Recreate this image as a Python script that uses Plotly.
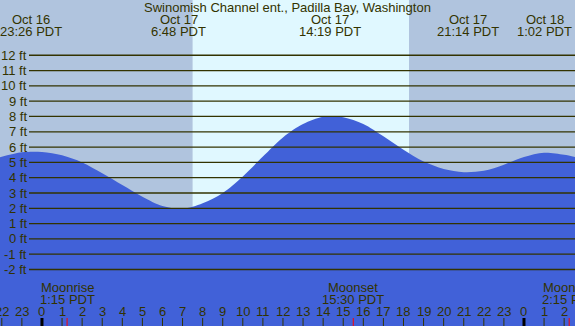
import plotly.graph_objects as go

# ---------------- data ----------------
title_text = "Swinomish Channel ent., Padilla Bay, Washington"

# tide height (ft); hours relative to Oct 17 00:00 PDT
tide_hours = [-2.1, -1, 0, 1, 2, 3, 4, 5, 6, 7, 8, 9, 10, 11, 12, 13, 14, 15,
              16, 17, 18, 19, 20, 21, 22, 23, 24, 25, 26, 26.6]
tide_ft = [5.33, 5.66, 5.68, 5.46, 5.0, 4.29, 3.52, 2.76, 2.15, 1.97, 2.33, 3.0,
           4.08, 5.38, 6.63, 7.5, 7.98, 7.95, 7.5, 6.7, 5.82, 5.05, 4.57, 4.36,
           4.45, 4.85, 5.35, 5.63, 5.5, 5.33]

# high/low labels
ext_hours = [-0.567, 6.8, 14.317, 21.233, 25.033]
ext_day = ["Oct 16", "Oct 17", "Oct 17", "Oct 17", "Oct 18"]
ext_time = ["23:26 PDT", "6:48 PDT", "14:19 PDT", "21:14 PDT", "1:02 PDT"]

# sun
sunrise_h = 7.5
sunset_h = 18.28

# moon
moon_hours = [1.25, 15.5, 26.25]
moon_names = ["Moonrise", "Moonset", "Moonrise"]
moon_times = ["1:15 PDT", "15:30 PDT", "2:15 PDT"]

# axes
ft_ticks = list(range(-2, 13))
ft_labels = [f"{v} ft" for v in ft_ticks]
hour_ticks = list(range(-2, 27))
midnights = [0, 24]

x_range = [-2.09, 26.54]
y_range = [-5.69, 15.61]

# ---------------- style ----------------
W, H = 575, 326
NIGHT = "#B0C4DE"
DAY = "#E0F8FF"
WATER = "#4161D8"
INK = "#333300"
FONT = "Liberation Sans"
FS = 13

fig = go.Figure()

# baseline for fill
fig.add_trace(go.Scatter(x=[x_range[0] - 1, x_range[1] + 1], y=[y_range[0] - 1] * 2,
                         mode="lines", line=dict(width=0), hoverinfo="skip",
                         showlegend=False))
fig.add_trace(go.Scatter(x=tide_hours, y=tide_ft, mode="lines",
                         line=dict(width=0, shape="spline", smoothing=0.9, color=WATER),
                         fill="tonexty", fillcolor=WATER, hoverinfo="skip",
                         showlegend=False))

shapes = []
# night/day backgrounds
shapes.append(dict(type="rect", xref="x", yref="paper", x0=x_range[0] - 1, x1=sunrise_h,
                   y0=0, y1=1, fillcolor=NIGHT, line=dict(width=0), layer="below"))
shapes.append(dict(type="rect", xref="x", yref="paper", x0=sunrise_h, x1=sunset_h,
                   y0=0, y1=1, fillcolor=DAY, line=dict(width=0), layer="below"))
shapes.append(dict(type="rect", xref="x", yref="paper", x0=sunset_h, x1=x_range[1] + 1,
                   y0=0, y1=1, fillcolor=NIGHT, line=dict(width=0), layer="below"))
# ft gridlines
for v in ft_ticks:
    shapes.append(dict(type="line", xref="paper", yref="y", x0=29 / W, x1=1,
                       y0=v, y1=v, line=dict(color=INK, width=1.3), layer="above"))
# hour ticks
for h in hour_ticks:
    big = (h % 24) == 0
    shapes.append(dict(type="line", xref="x", yref="paper", x0=h, x1=h,
                       y0=0, y1=8 / H,
                       line=dict(color="#000000" if big else INK, width=3 if big else 1),
                       layer="above"))
for h in moon_hours:
    shapes.append(dict(type="line", xref="x", yref="paper", x0=h, x1=h,
                       y0=0, y1=8 / H, line=dict(color="#FF0000", width=1),
                       layer="above"))

ann = []
def py(px):
    return 1 - px / H

ann.append(dict(text=title_text, xref="paper", yref="paper", x=0.5, y=py(7.5),
                xanchor="center", yanchor="middle", showarrow=False))
for h, d, t in zip(ext_hours, ext_day, ext_time):
    ann.append(dict(text=d, xref="x", yref="paper", x=h, y=py(20), xanchor="center",
                    yanchor="middle", showarrow=False))
    ann.append(dict(text=t, xref="x", yref="paper", x=h, y=py(32), xanchor="center",
                    yanchor="middle", showarrow=False))
for v, lab in zip(ft_ticks, ft_labels):
    ann.append(dict(text=lab, xref="paper", yref="y", x=27.5 / W, y=v, xanchor="right",
                    yanchor="middle", showarrow=False))
for h, n, t in zip(moon_hours, moon_names, moon_times):
    ann.append(dict(text=n, xref="x", yref="paper", x=h, y=py(287.5), xanchor="center",
                    yanchor="middle", showarrow=False))
    ann.append(dict(text=t, xref="x", yref="paper", x=h, y=py(299.5), xanchor="center",
                    yanchor="middle", showarrow=False))
for h in hour_ticks:
    ann.append(dict(text=str(h % 24), xref="x", yref="paper", x=h, y=py(311.5),
                    xanchor="center", yanchor="middle", showarrow=False))
for a in ann:
    a["font"] = dict(family=FONT, size=FS, color=INK)
    a["borderpad"] = 0

fig.update_layout(
    width=W, height=H, margin=dict(l=0, r=0, t=0, b=0),
    paper_bgcolor=NIGHT, plot_bgcolor="rgba(0,0,0,0)",
    xaxis=dict(range=x_range, visible=False, fixedrange=True),
    yaxis=dict(range=y_range, visible=False, fixedrange=True),
    shapes=shapes, annotations=ann, showlegend=False,
)

fig.write_html("out.html", config={"displayModeBar": False},
               post_script="document.body.style.margin='0';document.body.style.overflow='hidden';")
